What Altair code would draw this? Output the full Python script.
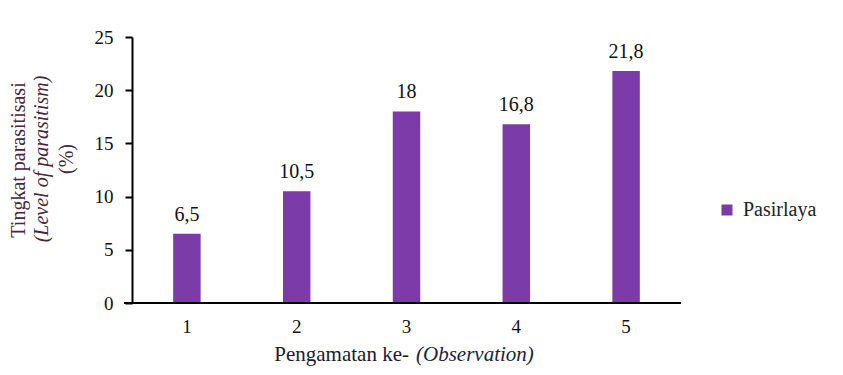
import altair as alt
import pandas as pd

observations = ["1", "2", "3", "4", "5"]
values = [6.5, 10.5, 18.0, 16.8, 21.8]
value_labels = ["6,5", "10,5", "18", "16,8", "21,8"]
series_name = "Pasirlaya"
y_ticks = [0, 5, 10, 15, 20, 25]

FONT = "Liberation Serif"
PURPLE = "#7B3BA9"
W, H = 549, 266

df = pd.DataFrame({
    "obs": observations,
    "val": values,
    "lab": value_labels,
    "series": [series_name] * len(observations),
})
one = pd.DataFrame({"k": [0]})

x_enc = alt.X("obs:N", sort=observations,
              scale=alt.Scale(paddingInner=0.75, paddingOuter=0.375),
              axis=alt.Axis(title=None, labelAngle=0, ticks=False, domain=False,
                            labelFont=FONT, labelFontSize=19, labelColor="#111",
                            labelPadding=14))
y_enc = alt.Y("val:Q", scale=alt.Scale(domain=[0, 25], nice=False),
              axis=alt.Axis(title=None, values=y_ticks, grid=False,
                            domainColor="black", domainWidth=2,
                            tickColor="black", tickWidth=2, tickSize=7,
                            labelFont=FONT, labelFontSize=19, labelColor="#111",
                            labelPadding=12))

bars = alt.Chart(df).mark_bar(color=PURPLE).encode(
    x=x_enc, y=y_enc,
    color=alt.Color("series:N", scale=alt.Scale(range=[PURPLE]),
                    legend=alt.Legend(title=None, orient="none", legendX=585, legendY=163,
                                      symbolType="square", symbolSize=121,
                                      symbolStrokeWidth=0, symbolFillColor=PURPLE,
                                      labelFont=FONT, labelFontSize=20,
                                      labelColor="#222", labelOffset=6)),
)

labels = alt.Chart(df).mark_text(font=FONT, fontSize=20, color="#111",
                                 baseline="alphabetic", dy=-13).encode(
    x=alt.X("obs:N", sort=observations), y="val:Q", text="lab:N")

axis_line = alt.Chart(one).mark_rule(color="black", strokeWidth=2).encode(
    x=alt.value(-8), x2=alt.value(W), y=alt.value(H))

ytitle_color = "#4a2540"
yt1 = alt.Chart(one).mark_text(text="Tingkat parasitisasi", font=FONT, fontSize=20,
                               angle=270, align="center", baseline="middle",
                               color=ytitle_color).encode(x=alt.value(-113), y=alt.value(123))
yt2 = alt.Chart(one).mark_text(text="(Level of parasitism)", font=FONT, fontSize=20,
                               fontStyle="italic", angle=270, align="center",
                               baseline="middle", color=ytitle_color).encode(
    x=alt.value(-90), y=alt.value(122))
yt3 = alt.Chart(one).mark_text(text="(%)", font=FONT, fontSize=20, angle=270,
                               align="center", baseline="middle",
                               color=ytitle_color).encode(x=alt.value(-65), y=alt.value(122))

xt1 = alt.Chart(one).mark_text(text="Pengamatan ke-", font=FONT, fontSize=21,
                               align="right", baseline="middle",
                               color="#1c1a30").encode(x=alt.value(277), y=alt.value(318))
xt2 = alt.Chart(one).mark_text(text="(Observation)", font=FONT, fontSize=21,
                               fontStyle="italic", align="left", baseline="middle",
                               color="#1a2440").encode(x=alt.value(284), y=alt.value(318))

chart = alt.layer(bars, labels, axis_line, yt1, yt2, yt3, xt1, xt2).properties(
    width=W, height=H,
    autosize=alt.AutoSizeParams(type="none"),
    padding={"left": 124, "top": 29, "right": 154, "bottom": 64},
).configure(background="white").configure_view(strokeWidth=0)

chart.save("out.html", embed_options={"renderer": "svg", "actions": False})
